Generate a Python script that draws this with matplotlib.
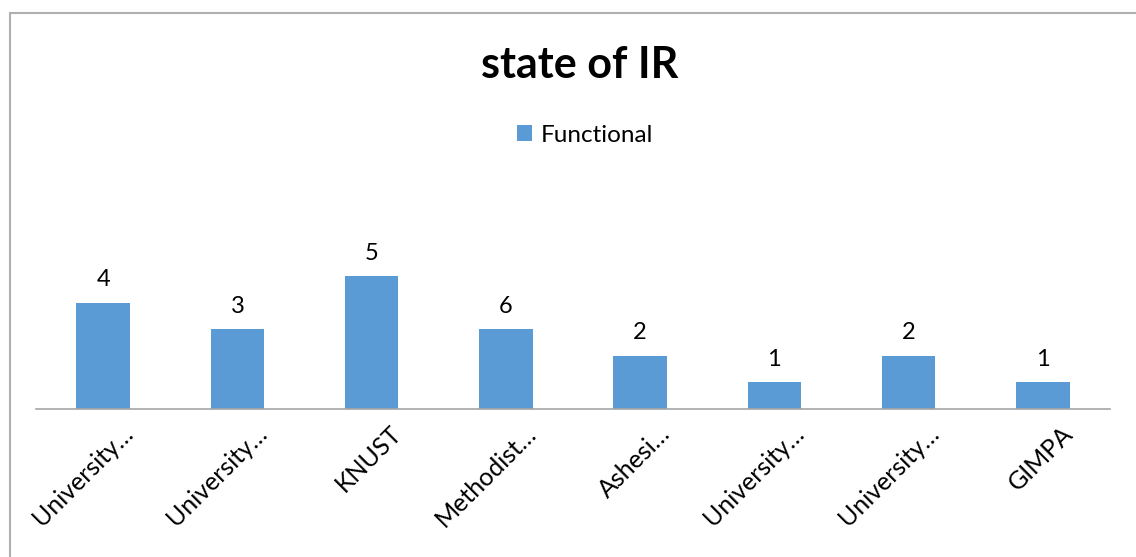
import matplotlib.pyplot as plt
from matplotlib.patches import Rectangle
from matplotlib.transforms import ScaledTranslation

categories = ['University…', 'University…', 'KNUST', 'Methodist…', 'Ashesi…',
              'University…', 'University…', 'GIMPA']
heights = [4, 3, 5, 3, 2, 1, 2, 1]
labels = ['4', '3', '5', '6', '2', '1', '2', '1']

plt.rcParams['font.family'] = ['Lato', 'DejaVu Sans']

W, H = 1136, 557
fig = plt.figure(figsize=(W / 100, H / 100), dpi=100)

# chart border (cropped on right and bottom)
fig.patches.append(Rectangle((10 / W, -0.1), 1.2, 1.1 - 13 / H, transform=fig.transFigure,
                             fill=False, edgecolor='#b0b0b0', linewidth=1.5))

ax = fig.add_axes([36 / W, (H - 409) / H, (1110 - 36) / W, (409 - 170) / H])
x = range(len(categories))
bars = ax.bar(x, heights, width=0.4, color='#5b9bd5', label='Functional')
ax.set_xlim(-0.5, len(categories) - 0.5)
ax.set_ylim(0, 9)

for b, lab in zip(bars, labels):
    ax.annotate(lab, (b.get_x() + b.get_width() / 2, b.get_height()),
                xytext=(0, 9), textcoords='offset points',
                ha='center', va='bottom', fontsize=17)

for s in ['top', 'right', 'left']:
    ax.spines[s].set_visible(False)
ax.spines['bottom'].set_color('#a6a6a6')
ax.spines['bottom'].set_linewidth(1.2)
ax.set_yticks([])
ax.set_xticks(list(x))
ax.set_xticklabels(categories, rotation=45, ha='right', rotation_mode='anchor', fontsize=18)
ax.tick_params(axis='x', length=0, pad=9)
offset = ScaledTranslation(13 / 72, 0, fig.dpi_scale_trans)
for t in ax.get_xticklabels():
    t.set_transform(t.get_transform() + offset)

fig.text(580 / W, (H - 65) / H, 'state of IR', ha='center', va='center',
         fontsize=31, fontweight='bold')
fig.legend(handles=[bars], labels=['Functional'], loc='center',
           bbox_to_anchor=(585 / W, (H - 135) / H), frameon=False, fontsize=17.5,
           handlelength=0.6, handleheight=0.6, handletextpad=0.35)

fig.savefig('out.png', dpi=100)
